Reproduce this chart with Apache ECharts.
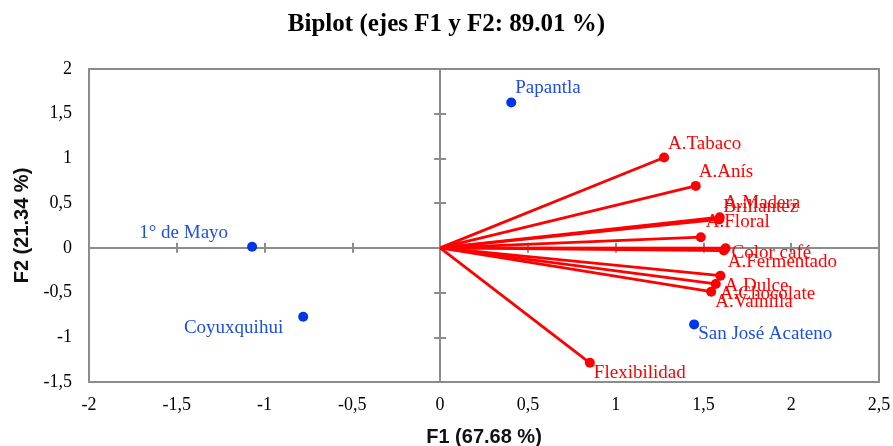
<!DOCTYPE html>
<html>
<head>
<meta charset="utf-8">
<script src="https://cdn.jsdelivr.net/npm/echarts@6/dist/echarts.min.js"></script>
<style>
html,body{margin:0;padding:0;background:#fff;}
#chart{width:893px;height:446px;}
</style>
</head>
<body>
<div id="chart"></div>
<script>
// ---- data ----
const titleText = 'Biplot (ejes F1 y F2: 89.01 %)';
const xAxisTitle = 'F1 (67.68 %)';
const yAxisTitle = 'F2 (21.34 %)';

const varNames = ['A.Tabaco', 'A.Anís', 'A.Madera', 'Brillantez', 'A.Floral', 'Color café', 'A.Fermentado', 'A.Dulce', 'A.Chocolate', 'A.Vainilla', 'Flexibilidad'];
const varF1 = [1.276, 1.456, 1.593, 1.590, 1.485, 1.626, 1.616, 1.597, 1.570, 1.544, 0.853];
const varF2 = [1.010, 0.693, 0.343, 0.318, 0.119, -0.004, -0.030, -0.311, -0.404, -0.490, -1.285];

const obsNames = ['Papantla', '1° de Mayo', 'Coyuxquihui', 'San José Acateno'];
const obsF1 = [0.405, -1.071, -0.780, 1.447];
const obsF2 = [1.626, 0.013, -0.770, -0.856];

const xTickValues = [-2, -1.5, -1, -0.5, 0, 0.5, 1, 1.5, 2, 2.5];
const yTickValues = [-1.5, -1, -0.5, 0, 0.5, 1, 1.5, 2];

// ---- layout / style (not data) ----
// [side, horizontal gap from point, vertical offset of label centre]
const varLabelLayout = [
  ['right', 5, -14], ['right', 4, -14], ['right', 5, -14], ['right', 5, -12],
  ['right', 6, -15], ['right', 7, 5], ['right', 5, 11], ['right', 5, 10],
  ['right', 5, 10], ['right', 5, 10], ['right', 5, 10]
];
const obsLabelLayout = [
  ['right', 5, -14], ['left', 25, -14], ['left', 21, 11], ['right', 5, 10]
];

const RED = '#ff0000';
const BLUE_PT = '#0036e6';
const BLUE_TXT = '#1e4fe0';
const GRAY = '#8c8c8c';
const SERIF = '"Liberation Serif", "Times New Roman", serif';
const SANS = '"Liberation Sans", Arial, sans-serif';
const SYM = 10;

function fmt(v) { return String(v).replace('.', ','); }

function labelFor(layout, color) {
  const side = layout[0], gap = layout[1], dy = layout[2];
  const dx = side === 'right' ? gap - 1 - SYM / 2 : -(gap - 1 - SYM / 2);
  return {
    show: true, position: side, distance: 0, offset: [dx, dy],
    color: color, fontFamily: SERIF, fontSize: 19
  };
}

const xMin = xTickValues[0], xMax = xTickValues[xTickValues.length - 1];
const yMin = yTickValues[0], yMax = yTickValues[yTickValues.length - 1];

function xAxisBase() {
  return { type: 'value', min: xMin, max: xMax, interval: 0.5, splitLine: { show: false } };
}
function yAxisBase() {
  return { type: 'value', min: yMin, max: yMax, interval: 0.5, splitLine: { show: false } };
}

const series = [];
// vectors from origin
varNames.forEach(function (n, i) {
  series.push({
    type: 'line', name: n, xAxisIndex: 0, yAxisIndex: 0,
    data: [[0, 0], [varF1[i], varF2[i]]],
    showSymbol: false, symbol: 'none', silent: true, z: 3,
    lineStyle: { color: RED, width: 2.8, opacity: 1 }
  });
});
// variable end points with labels
series.push({
  type: 'scatter', xAxisIndex: 0, yAxisIndex: 0, symbolSize: SYM, z: 4,
  itemStyle: { color: RED, opacity: 1 },
  data: varNames.map(function (n, i) {
    return { name: n, value: [varF1[i], varF2[i]], label: labelFor(varLabelLayout[i], RED) };
  }),
  label: { formatter: function (p) { return p.name; } }
});
// observations
series.push({
  type: 'scatter', xAxisIndex: 0, yAxisIndex: 0, symbolSize: SYM, z: 4,
  itemStyle: { color: BLUE_PT, opacity: 1 },
  data: obsNames.map(function (n, i) {
    return { name: n, value: [obsF1[i], obsF2[i]], label: labelFor(obsLabelLayout[i], BLUE_TXT) };
  }),
  label: { formatter: function (p) { return p.name; } }
});

const option = {
  animation: false,
  backgroundColor: '#ffffff',
  title: {
    text: titleText, left: 'center', top: 12, padding: 0,
    textStyle: { fontFamily: SERIF, fontWeight: 'bold', fontSize: 25, color: '#000' }
  },
  grid: {
    left: 89, right: 14, top: 69, bottom: 64,
    containLabel: false, outerBoundsMode: 'none',
    show: true, borderColor: GRAY, borderWidth: 2, backgroundColor: 'transparent'
  },
  xAxis: [
    Object.assign(xAxisBase(), {
      position: 'bottom',
      axisLine: { show: false, onZero: false },
      axisTick: { show: false },
      axisLabel: { margin: 14, formatter: fmt, fontFamily: SERIF, fontSize: 18, color: '#000' },
      name: xAxisTitle, nameLocation: 'middle', nameGap: 45,
      nameTextStyle: { fontFamily: SANS, fontWeight: 'bold', fontSize: 20, color: '#111' }
    }),
    Object.assign(xAxisBase(), {
      position: 'bottom',
      axisLine: { show: true, onZero: true, onZeroAxisIndex: 0, lineStyle: { color: GRAY, width: 2 } },
      axisTick: { show: true, inside: false, length: 5, lineStyle: { color: GRAY, width: 2 } },
      axisLabel: { show: false }
    }),
    Object.assign(xAxisBase(), {
      position: 'bottom',
      axisLine: { show: false, onZero: true, onZeroAxisIndex: 0 },
      axisTick: { show: true, inside: true, length: 5, lineStyle: { color: GRAY, width: 2 } },
      axisLabel: { show: false }
    })
  ],
  yAxis: [
    Object.assign(yAxisBase(), {
      position: 'left',
      axisLine: { show: false, onZero: false },
      axisTick: { show: false },
      axisLabel: { margin: 17, formatter: fmt, fontFamily: SERIF, fontSize: 18, color: '#000' },
      name: yAxisTitle, nameLocation: 'middle', nameGap: 55, nameRotate: 90,
      nameTextStyle: { fontFamily: SANS, fontWeight: 'bold', fontSize: 20, color: '#111' }
    }),
    Object.assign(yAxisBase(), {
      position: 'left',
      axisLine: { show: true, onZero: true, onZeroAxisIndex: 0, lineStyle: { color: GRAY, width: 2 } },
      axisTick: { show: true, inside: false, length: 6, lineStyle: { color: GRAY, width: 2 } },
      axisLabel: { show: false }
    }),
    Object.assign(yAxisBase(), {
      position: 'left',
      axisLine: { show: false, onZero: true, onZeroAxisIndex: 0 },
      axisTick: { show: true, inside: true, length: 6, lineStyle: { color: GRAY, width: 2 } },
      axisLabel: { show: false }
    })
  ],
  series: series
};

const chart = echarts.init(document.getElementById('chart'), null, { renderer: 'canvas' });
chart.setOption(option);
</script>
</body>
</html>
